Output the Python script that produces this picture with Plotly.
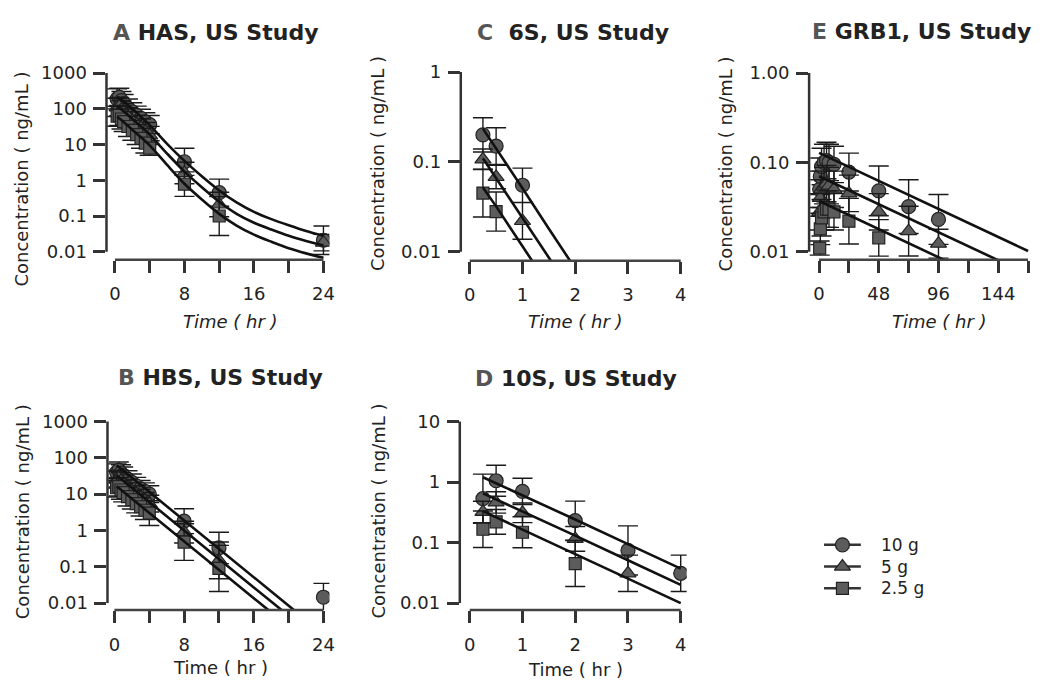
import plotly.graph_objects as go

W, H = 1043, 688

# ---------------- data ----------------
# Panel A: HAS
tA = [0.25, 0.5, 0.75, 1, 1.5, 2, 2.5, 3, 3.5, 4, 8, 12, 24]
A_10 = [190, 210, 170, 140, 105, 82, 66, 54, 43, 36, 3.3, 0.45, 0.021]
A_5 = [110, 115, 95, 80, 60, 46, 36, 29, 23, 18, 1.6, 0.21, 0.018]
A_25 = [62, 65, 52, 44, 32, 25, 19, 15, 11, 8.0, 0.78, 0.10, None]
A_10_gsd = [1.9, 1.8, 1.8, 1.8, 1.8, 1.8, 1.8, 1.8, 1.8, 1.8, 2.4, 2.4, 2.5]
A_5_gsd = [1.8, 1.8, 1.8, 1.8, 1.8, 1.8, 1.8, 1.8, 1.8, 1.8, 2.0, 2.2, 1.7]
A_25_gsd = [1.9, 1.9, 1.9, 1.9, 1.9, 1.9, 1.9, 1.9, 1.9, 1.6, 2.2, 3.5, None]
tA_fit = [0.25, 1, 2, 3, 4, 6, 8, 10, 12, 14, 16, 18, 20, 22, 24]
A_fit10 = [220, 160, 100, 60, 35, 10.5, 3.5, 1.3, 0.52, 0.24, 0.13, 0.082, 0.055, 0.038, 0.028]
A_fit5 = [120, 85, 52, 32, 19, 5.6, 1.75, 0.64, 0.25, 0.115, 0.065, 0.042, 0.028, 0.02, 0.015]
A_fit25 = [60, 43, 26, 16, 9.5, 2.7, 0.8, 0.29, 0.115, 0.054, 0.03, 0.019, 0.0125, 0.009, 0.0068]

# Panel B: HBS
tB = [0.25, 0.5, 0.75, 1, 1.5, 2, 2.5, 3, 3.5, 4, 8, 12, 24]
B_10 = [40, 45, 38, 33, 26, 21, 17, 14, 12, 10, 1.8, 0.33, 0.0145]
B_5 = [25, 27, 23, 20, 15, 12, 10, 8, 6.5, 5.5, 0.9, 0.15, None]
B_25 = [15, 16, 13, 11, 8.5, 7, 5.5, 4.5, 3.6, 3.0, 0.48, 0.09, None]
B_10_gsd = [1.7, 1.7, 1.7, 1.7, 1.7, 1.7, 1.7, 1.7, 1.7, 1.7, 2.2, 2.7, 2.4]
B_5_gsd = [1.7, 1.7, 1.7, 1.7, 1.7, 1.7, 1.7, 1.7, 1.7, 1.7, 2.0, 3.2, None]
B_25_gsd = [1.8, 1.8, 1.8, 1.8, 1.8, 1.8, 1.8, 1.8, 1.8, 2.2, 3.2, 4.3, None]
tB_fit = [0.25, 4, 8, 12, 16, 20, 24]
B_fit10 = [62, 11.5, 1.9, 0.32, 0.052, 0.0087, 0.0014]
B_fit5 = [33, 6.0, 1.0, 0.165, 0.027, 0.0045, 0.00075]
B_fit25 = [16.5, 3.0, 0.5, 0.083, 0.0136, 0.0023, 0.00038]

# Panel C: 6S
tC = [0.25, 0.5, 1]
C_10 = [0.20, 0.15, 0.055]
C_5 = [0.107, 0.068, 0.022]
C_25 = [0.045, 0.028, None]
C_10_gsd = [1.55, 1.6, 1.55]
C_5_gsd = [1.3, 1.35, 1.6]
C_25_gsd = [1.85, 1.65, None]
tC_fit = [0.25, 0.5, 1.0, 1.5, 2.0]
C_fit10 = [0.235, 0.142, 0.051, 0.018, 0.0065]
C_fit5 = [0.11, 0.066, 0.024, 0.0086, 0.0031]
C_fit25 = [0.052, 0.032, 0.0115, 0.0042, 0.0015]

# Panel D: 10S
tD = [0.25, 0.5, 1, 2, 3, 4]
D_10 = [0.53, 1.05, 0.70, 0.23, 0.074, 0.031]
D_5 = [0.32, 0.46, 0.31, 0.115, 0.031, None]
D_25 = [0.166, 0.22, 0.148, 0.045, None, None]
D_10_gsd = [2.55, 1.8, 1.65, 2.1, 2.55, 2.0]
D_5_gsd = [1.5, 1.5, 1.45, 1.6, 2.0, None]
D_25_gsd = [2.0, 1.6, 1.8, 2.4, None, None]
tD_fit = [0.25, 1, 2, 3, 4]
D_fit10 = [1.2, 0.61, 0.24, 0.094, 0.037]
D_fit5 = [0.65, 0.33, 0.13, 0.051, 0.02]
D_fit25 = [0.33, 0.165, 0.065, 0.026, 0.01]

# Panel E: GRB1
tE = [0.5, 1, 2, 4, 6, 8, 12, 24, 48, 72, 96]
E_10 = [0.05, 0.07, 0.09, 0.10, 0.105, 0.10, 0.095, 0.078, 0.048, 0.032, 0.023]
E_5 = [0.028, 0.04, 0.05, 0.055, 0.058, 0.055, 0.05, 0.045, 0.028, 0.017, 0.0123]
E_25 = [0.011, 0.018, 0.024, 0.028, 0.03, 0.03, 0.028, 0.022, 0.0143, None, None]
E_10_gsd = [1.6, 1.6, 1.6, 1.6, 1.6, 1.6, 1.6, 1.63, 1.9, 2.0, 1.9]
E_5_gsd = [1.6, 1.6, 1.6, 1.6, 1.6, 1.6, 1.6, 1.6, 1.6, 1.9, 1.45]
E_25_gsd = [1.2, 1.5, 1.6, 1.6, 1.6, 1.6, 1.6, 1.8, 1.6, None, None]
tE_fit = [0, 48, 96, 144, 168]
E_fit10 = [0.128, 0.062, 0.030, 0.0146, 0.0102]
E_fit5 = [0.070, 0.034, 0.0165, 0.008, 0.0056]
E_fit25 = [0.037, 0.018, 0.0087, 0.0042, 0.0029]

dose_labels = ["10 g", "5 g", "2.5 g"]

# ---------------- styling ----------------
FONT = "DejaVu Sans"
TXT = "#222222"
AX = "#333333"
MFILL = "#5c5c5c"
MLINE = "#222222"
SYMBOLS = ["circle", "triangle-up", "square"]
MSIZE = [14, 14, 12]

# panel geometry in pixels
panels = {
    "A": dict(xa="x", ya="y", x0=115.5, sx=8.73, left=107, right=331,
              yref=3, ypx=68, sy=36.2, top=63, bot=257),
    "B": dict(xa="x2", ya="y2", x0=115, sx=8.75, left=108, right=331,
              yref=3, ypx=421, sy=36.8, top=416, bot=612),
    "C": dict(xa="x3", ya="y3", x0=472, sx=53, left=463, right=690,
              yref=0, ypx=67, sy=91, top=62, bot=258),
    "D": dict(xa="x4", ya="y4", x0=472, sx=53, left=462, right=690,
              yref=1, ypx=421, sy=61.33, top=416, bot=612),
    "E": dict(xa="x5", ya="y5", x0=823, sx=1.25, left=813, right=1037,
              yref=0, ypx=68, sy=90.5, top=63, bot=257),
}

series = {
    "A": (tA, [A_10, A_5, A_25], [A_10_gsd, A_5_gsd, A_25_gsd],
          tA_fit, [A_fit10, A_fit5, A_fit25], "spline"),
    "B": (tB, [B_10, B_5, B_25], [B_10_gsd, B_5_gsd, B_25_gsd],
          tB_fit, [B_fit10, B_fit5, B_fit25], "linear"),
    "C": (tC, [C_10, C_5, C_25], [C_10_gsd, C_5_gsd, C_25_gsd],
          tC_fit, [C_fit10, C_fit5, C_fit25], "linear"),
    "D": (tD, [D_10, D_5, D_25], [D_10_gsd, D_5_gsd, D_25_gsd],
          tD_fit, [D_fit10, D_fit5, D_fit25], "linear"),
    "E": (tE, [E_10, E_5, E_25], [E_10_gsd, E_5_gsd, E_25_gsd],
          tE_fit, [E_fit10, E_fit5, E_fit25], "linear"),
}

ticks = {
    "A": dict(xv=[0, 4, 8, 12, 16, 20, 24], xt=["0", "", "8", "", "16", "", "24"],
              yv=[0.01, 0.1, 1, 10, 100, 1000], yt=["0.01", "0.1", "1", "10", "100", "1000"]),
    "B": dict(xv=[0, 4, 8, 12, 16, 20, 24], xt=["0", "", "8", "", "16", "", "24"],
              yv=[0.01, 0.1, 1, 10, 100, 1000], yt=["0.01", "0.1", "1", "10", "100", "1000"]),
    "C": dict(xv=[0, 1, 2, 3, 4], xt=["0", "1", "2", "3", "4"],
              yv=[0.01, 0.1, 1], yt=["0.01", "0.1", "1"]),
    "D": dict(xv=[0, 1, 2, 3, 4], xt=["0", "1", "2", "3", "4"],
              yv=[0.01, 0.1, 1, 10], yt=["0.01", "0.1", "1", "10"]),
    "E": dict(xv=[0, 24, 48, 72, 96, 120, 144, 168], xt=["0", "", "48", "", "96", "", "144", ""],
              yv=[0.01, 0.1, 1], yt=["0.01", "0.10", "1.00"]),
}

titles = {
    "A": ("A", "HAS, US Study", 217, 27),
    "B": ("B", "HBS, US Study", 222, 376),
    "C": ("C", "&nbsp;6S, US Study", 576, 27),
    "D": ("D", "10S, US Study", 579, 377),
    "E": ("E", "GRB1, US Study", 926, 26),
}
ytitle_pos = {"A": (22, 175), "B": (22, 512), "C": (380, 160), "D": (380, 512), "E": (729, 160)}
xtitle_pos = {"A": (232, 320, True), "B": (222, 670, False), "C": (578, 320, True),
              "D": (578, 672, False), "E": (944, 320, True)}

fig = go.Figure()
layout = dict(width=W, height=H, margin=dict(l=0, r=0, t=0, b=0),
              paper_bgcolor="white", plot_bgcolor="white", showlegend=False,
              font=dict(family=FONT, size=18, color=TXT))
shapes, annotations = [], []

for key, p in panels.items():
    xa, ya = p["xa"], p["ya"]
    xr = [(p["left"] - p["x0"]) / p["sx"], (p["right"] - p["x0"]) / p["sx"]]
    yr = [p["yref"] - (p["bot"] - p["ypx"]) / p["sy"], p["yref"] + (p["ypx"] - p["top"]) / p["sy"]]
    tk = ticks[key]
    xname = "xaxis" + xa[1:]
    yname = "yaxis" + ya[1:]
    layout[xname] = dict(domain=[p["left"] / W, p["right"] / W], range=xr, anchor=ya,
                         showgrid=False, zeroline=False, showline=False,
                         ticks="outside", ticklen=12, tickwidth=2.5, tickcolor=AX,
                         tickvals=tk["xv"], ticktext=tk["xt"], ticklabelstandoff=6,
                         tickfont=dict(size=18, color=TXT, family=FONT))
    layout[yname] = dict(domain=[1 - p["bot"] / H, 1 - p["top"] / H], range=yr, type="log",
                         anchor=xa, showgrid=False, zeroline=False, showline=False,
                         ticks="outside", ticklen=12, tickwidth=2.5, tickcolor=AX,
                         tickvals=tk["yv"], ticktext=tk["yt"], ticklabelstandoff=3,
                         tickfont=dict(size=18, color=TXT, family=FONT))
    # detached axis lines (SigmaPlot style)
    shapes.append(dict(type="line", xref=xa + " domain", x0=0, x1=0, yref=ya,
                       y0=min(tk["yv"]), y1=max(tk["yv"]),
                       line=dict(color=AX, width=2.5)))
    shapes.append(dict(type="line", xref=xa, x0=min(tk["xv"]), x1=max(tk["xv"]),
                       yref=ya + " domain", y0=0, y1=0, line=dict(color="#444444", width=2.5)))

    t, ys, gs, tf, fits, shape = series[key]
    for i in range(3):
        xs, vs, up, dn = [], [], [], []
        for tt, v, g in zip(t, ys[i], gs[i]):
            if v is None:
                continue
            xs.append(tt)
            vs.append(v)
            up.append(v * (g - 1))
            dn.append(v * (1 - 1 / g))
        fig.add_trace(go.Scatter(
            x=xs, y=vs, xaxis=xa, yaxis=ya, mode="markers", showlegend=False,
            marker=dict(symbol=SYMBOLS[i], size=MSIZE[i], color=MFILL,
                        line=dict(color=MLINE, width=1.2)),
            error_y=dict(type="data", symmetric=False, array=up, arrayminus=dn,
                         color="#1a1a1a", thickness=1.4, width=10)))
    for i in range(3):
        fig.add_trace(go.Scatter(
            x=tf, y=fits[i], xaxis=xa, yaxis=ya, mode="lines", showlegend=False,
            line=dict(color="#111111", width=2.6, shape=shape,
                      **({"smoothing": 0.8} if shape == "spline" else {}))))

    letter, rest, cx, cy = titles[key]
    annotations.append(dict(xref="paper", yref="paper", x=cx / W, y=1 - cy / H,
                            text=f"<b><span style='color:#555555'>{letter}</span> {rest}</b>",
                            showarrow=False, xanchor="center", yanchor="middle",
                            font=dict(family=FONT, size=22, color=TXT)))
    yx, yy = ytitle_pos[key]
    annotations.append(dict(xref="paper", yref="paper", x=yx / W, y=1 - yy / H,
                            text="Concentration ( ng/mL )", textangle=-90, showarrow=False,
                            xanchor="center", yanchor="middle",
                            font=dict(family=FONT, size=18, color=TXT)))
    tx, ty, ital = xtitle_pos[key]
    annotations.append(dict(xref="paper", yref="paper", x=tx / W, y=1 - ty / H,
                            text="<i>Time ( hr )</i>" if ital else "Time ( hr )",
                            showarrow=False, xanchor="center", yanchor="middle",
                            font=dict(family=FONT, size=18, color=TXT)))

# ---------------- legend (drawn in its own pixel-scaled box) ----------------
LEG_L, LEG_R, LEG_T, LEG_B = 800, 1000, 530, 620
layout["xaxis6"] = dict(domain=[LEG_L / W, LEG_R / W], range=[LEG_L, LEG_R], anchor="y6",
                        visible=False, fixedrange=True)
layout["yaxis6"] = dict(domain=[1 - LEG_B / H, 1 - LEG_T / H], range=[LEG_B, LEG_T], anchor="x6",
                        visible=False, fixedrange=True)
leg_rows = [546, 568, 590]
for i in range(3):
    yrow = leg_rows[i]
    fig.add_trace(go.Scatter(
        x=[828, 865], y=[yrow, yrow], xaxis="x6", yaxis="y6", mode="lines", showlegend=False,
        line=dict(color="#333333", width=2.5), hoverinfo="skip"))
    fig.add_trace(go.Scatter(
        x=[846.5], y=[yrow], xaxis="x6", yaxis="y6", mode="markers", showlegend=False,
        marker=dict(symbol=SYMBOLS[i], size=MSIZE[i], color=MFILL, line=dict(color=MLINE, width=1.2)),
        name=dose_labels[i]))
    annotations.append(dict(xref="paper", yref="paper", x=883 / W, y=1 - yrow / H,
                            text=dose_labels[i], showarrow=False, xanchor="left", yanchor="middle",
                            font=dict(family=FONT, size=17, color=TXT)))

layout["shapes"] = shapes
layout["annotations"] = annotations
fig.update_layout(**layout)

fig.write_html("out.html")
